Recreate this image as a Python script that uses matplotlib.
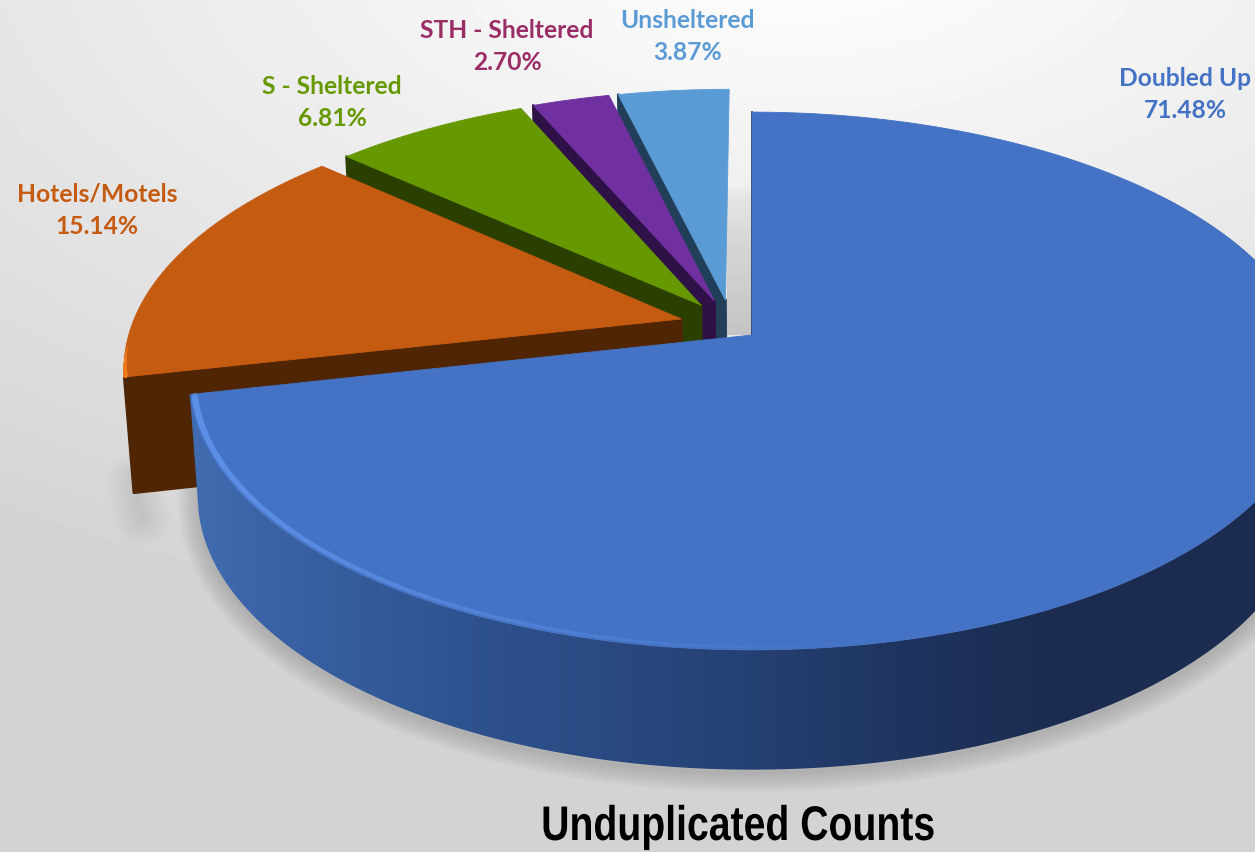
import numpy as np
import matplotlib
matplotlib.use("Agg")
import matplotlib.pyplot as plt
from matplotlib.collections import LineCollection
from matplotlib.colors import to_rgb
from matplotlib.patches import Polygon
from matplotlib.patheffects import AbstractPathEffect
from matplotlib.transforms import Affine2D

labels = ["Doubled Up", "Hotels/Motels", "S - Sheltered", "STH - Sheltered", "Unsheltered"]
shares = [71.48, 15.14, 6.81, 2.70, 3.87]

top_colors = ["#4472C4", "#C55A11", "#669900", "#7030A0", "#5B9BD5"]
wall_colors = ["#1B2C50", "#4F2504", "#2B4000", "#2E1147", "#223F59"]
text_colors = ["#4472C4", "#C55A11", "#669900", "#9B2D66", "#5B9BD5"]

# explode of each slice, in the plane of the pie
shift_x = [0.0, -0.129, -0.094, -0.069, -0.049]
shift_y = [0.0, 0.062, 0.117, 0.133, 0.137]
radius = [1.0, 0.997, 0.985, 0.985, 0.985]

label_x = [1185, 97, 332, 507, 688]
label_y = [79, 194, 86, 30, 20]

W, H = 1255, 852
CX, KP = 752, 0.171


def top_plane(x, y):
    d = 1 + KP * y
    return CX + 554.5 * x / d, 335 - 261 * y / d


def low_plane(x, y):
    d = 1 + KP * y
    return CX + 546 * x / d, 450 - 265 * y / d


def arc(start, end, sx=0.0, sy=0.0, r=1.0):
    t = np.radians(np.linspace(start, end, 300))
    return r * np.sin(t) + sx, r * np.cos(t) + sy


def fading_line(ax, x, y, color, widths, alphas, zorder):
    pts = np.column_stack((x, y))
    segs = np.stack((pts[:-1], pts[1:]), axis=1)
    rgb = to_rgb(color)
    cols = [(rgb[0], rgb[1], rgb[2], a) for a in np.linspace(alphas[0], alphas[1], len(segs))]
    lws = np.linspace(widths[0], widths[1], len(segs))
    ax.add_collection(LineCollection(segs, colors=cols, linewidths=lws, zorder=zorder, capstyle="round"))


class Squeeze(AbstractPathEffect):
    # narrow the glyphs around a centre, there is no Arial Narrow here
    def __init__(self, factor, centre):
        super().__init__()
        self.factor = factor
        self.centre = centre

    def draw_path(self, renderer, gc, tpath, affine, rgbFace=None):
        squeeze = Affine2D().translate(-self.centre, 0).scale(self.factor, 1).translate(self.centre, 0)
        renderer.draw_path(gc, tpath, affine + squeeze, rgbFace)


fig = plt.figure(figsize=(W / 100, H / 100), dpi=100)
ax = fig.add_axes([0, 0, 1, 1])
ax.set_xlim(0, W)
ax.set_ylim(H, 0)
ax.axis("off")

# background
yy, xx = np.mgrid[0:H, 0:W]
dist = np.sqrt(((xx - 800) / 1400.0) ** 2 + ((yy + 60) / 700.0) ** 2)
bg = 1.0 - 0.17 * np.clip(dist, 0, 1)
ax.imshow(bg, cmap="gray", vmin=0, vmax=1, extent=(0, W, H, 0), aspect="auto", zorder=0)

# clockwise angles from the top: each slice runs ends[i] -> starts[i]
starts = 360 * np.cumsum(shares) / np.sum(shares)
ends = np.concatenate(([0], starts[:-1]))

# floor shadow
sx, sy = arc(95, 262)
lx, ly = low_plane(sx, sy)
for w in range(2, 32, 3):
    ax.plot(lx, ly + 3, color="black", lw=w, alpha=0.016, zorder=1, solid_capstyle="round")
sx, sy = arc(250, 258, shift_x[1], shift_y[1])
lx, ly = low_plane(sx, sy)
for w in range(4, 44, 4):
    ax.plot(lx + 3, ly - 10, color="black", lw=w, alpha=0.007, zorder=1, solid_capstyle="round")

# shadow in the gap between the big slice and the others
fade = np.linspace(0, 1, 60).reshape(-1, 1) ** 0.5
gap = np.zeros((60, 1, 4))
gap[..., 3] = fade * 0.15
ax.imshow(gap, extent=(727, 752, 335, 185), aspect="auto", zorder=1)
ax.set_xlim(0, W)
ax.set_ylim(H, 0)

# slices from back to front
z = 2
for i in [4, 3, 2, 1, 0]:
    a0, a1 = ends[i], starts[i]
    sxv, syv, rv = shift_x[i], shift_y[i], radius[i]
    ax_, ay_ = top_plane(sxv, syv)
    bx_, by_ = low_plane(sxv, syv)
    if i != 0:
        # cut wall on the clockwise-first edge
        ox, oy = rv * np.sin(np.radians(a0)) + sxv, rv * np.cos(np.radians(a0)) + syv
        tx, ty = top_plane(ox, oy)
        ux, uy = low_plane(ox, oy)
        wall = [[ax_, ay_], [tx, ty], [ux, uy], [bx_, by_]]
        ax.add_patch(Polygon(wall, closed=True, fc=wall_colors[i], ec=wall_colors[i], lw=2,
                             joinstyle="round", zorder=z))
        z += 1
    else:
        # outer rim with a left to right gradient
        rim_sx, rim_sy = arc(55, a1)
        tx, ty = top_plane(rim_sx, rim_sy)
        ux, uy = low_plane(rim_sx, rim_sy)
        rim = Polygon(np.vstack((np.column_stack((tx, ty)), np.column_stack((ux, uy))[::-1])),
                      closed=True, fc="none", ec="none", zorder=z)
        ax.add_patch(rim)
        stops_x = np.array([190, 300, 500, 700, 900, 1050, 1255]) / W
        stops = np.array([[0x40, 0x6C, 0xB0], [0x38, 0x60, 0xA2], [0x2D, 0x50, 0x8C],
                          [0x27, 0x44, 0x78], [0x1F, 0x35, 0x60], [0x1B, 0x2C, 0x50],
                          [0x1B, 0x2C, 0x50]]) / 255.0
        gx = np.linspace(0, 1, W)
        grad = np.stack([np.interp(gx, stops_x, stops[:, c]) for c in range(3)], axis=1)[None, :, :]
        im = ax.imshow(grad, extent=(0, W, H, 0), aspect="auto", zorder=z)
        im.set_clip_path(rim)
        ax.set_xlim(0, W)
        ax.set_ylim(H, 0)
        z += 1
        ax.plot([CX, CX], [112, 335], color="#14233F", lw=1.2, zorder=z)
    px, py = arc(a0, a1, sxv, syv, rv)
    tx, ty = top_plane(px, py)
    pts = np.vstack(([ax_, ay_], np.column_stack((tx, ty))))
    ax.add_patch(Polygon(pts, closed=True, fc=top_colors[i], ec=top_colors[i], lw=0.6,
                         joinstyle="round", zorder=z))
    z += 1

# bevel highlights, strongest near the corner of the big slice
hx, hy = arc(starts[0] - 0.5, 165, r=0.992)
tx, ty = top_plane(hx, hy)
fading_line(ax, tx, ty, "#5C8FE6", (4.5, 1.6), (0.8, 0.0), z)
hx, hy = arc(ends[1] + 0.2, ends[1] + 7, shift_x[1], shift_y[1], r=radius[1] - 0.002)
tx, ty = top_plane(hx, hy)
fading_line(ax, tx, ty, "#EE7A20", (3.0, 1.0), (1.0, 0.0), z)

# labels
for name, share, x, y, col in zip(labels, shares, label_x, label_y, text_colors):
    ax.text(x, y, name, color=col, family="Lato", fontweight="bold", fontsize=17.7,
            ha="center", va="center", zorder=z + 1)
    ax.text(x, y + 32, "%.2f%%" % share, color=col, family="Lato", fontweight="bold", fontsize=17.7,
            ha="center", va="center", zorder=z + 1)

ax.text(738, 827.5, "Unduplicated Counts", color="black", family="Liberation Sans", fontweight="bold",
        fontsize=35, ha="center", va="center", zorder=z + 1,
        path_effects=[Squeeze(0.806, 738)])

fig.savefig("out.png", dpi=100)
